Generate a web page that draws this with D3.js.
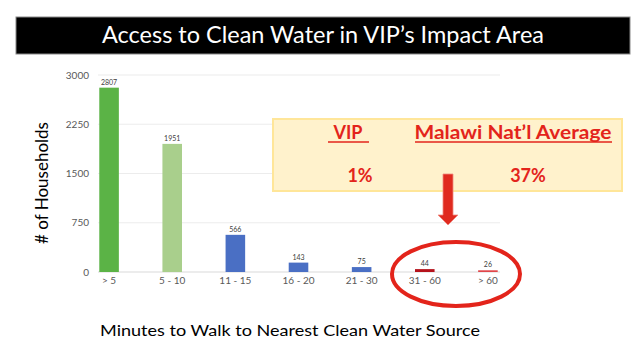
<!DOCTYPE html>
<html>
<head>
<meta charset="utf-8">
<script src="https://cdn.jsdelivr.net/npm/d3@7"></script>
<style>
html,body{margin:0;padding:0;background:#fff;}
svg{display:block;}
</style>
</head>
<body>
<svg id="chart" width="640" height="351"></svg>
<script>
const categories = ["> 5", "5 - 10", "11 - 15", "16 - 20", "21 - 30", "31 - 60", "> 60"];
const households = [2807, 1951, 566, 143, 75, 44, 26];
const barColors = ["#5bb346", "#a9cf8c", "#4a6fc4", "#4a6fc4", "#4a6fc4", "#b5121b", "#e0464a"];
const yTicks = [0, 750, 1500, 2250, 3000];
const title = "Access to Clean Water in VIP\u2019s Impact Area";
const yTitle = "# of Households";
const xTitle = "Minutes to Walk to Nearest Clean Water Source";
const calloutHeads = ["VIP", "Malawi Nat\u2019l Average"];
const calloutValues = ["1%", "37%"];

const svg = d3.select("#chart");
const font = "Lato, 'Open Sans', sans-serif";

// title bar
svg.append("rect").attr("x", 16).attr("y", 17).attr("width", 614).attr("height", 37)
  .attr("fill", "#000").attr("stroke", "#888").attr("stroke-width", 1);
svg.append("text").attr("x", 323).attr("y", 43).attr("text-anchor", "middle")
  .attr("fill", "#fff").attr("font-family", font).attr("font-size", 23)
  .attr("textLength", 442).attr("lengthAdjust", "spacingAndGlyphs").text(title);

const x = d3.scaleBand().domain(categories).range([77.5, 519.5]).paddingInner(0.69).paddingOuter(0.345);
const y = d3.scaleLinear().domain([0, 3000]).range([272, 75]);

// gridlines
svg.append("g").selectAll("line").data(yTicks).join("line")
  .attr("x1", 98).attr("x2", 500)
  .attr("y1", d => y(d)).attr("y2", d => y(d))
  .attr("stroke", d => d === 0 ? "#d9d9d9" : "#ececec").attr("stroke-width", 1.2);

// y axis labels
const yAxis = d3.axisLeft(y).tickValues(yTicks).tickFormat(d3.format("d")).tickSize(0).tickPadding(0);
const gy = svg.append("g").attr("transform", "translate(89,0)").call(yAxis);
gy.select(".domain").remove();
gy.selectAll("text").attr("font-family", font).attr("font-size", 10).attr("fill", "#595959");

// x axis labels
const xAxis = d3.axisBottom(x).tickSize(0).tickPadding(0);
const gx = svg.append("g").attr("transform", "translate(0,277)").call(xAxis);
gx.select(".domain").remove();
gx.selectAll("text").attr("font-family", font).attr("font-size", 10).attr("fill", "#595959");

// bars
svg.append("g").selectAll("rect").data(households).join("rect")
  .attr("x", (d, i) => x(categories[i]))
  .attr("width", x.bandwidth())
  .attr("y", d => y(d))
  .attr("height", d => y(0) - y(d))
  .attr("fill", (d, i) => barColors[i]);

// value labels
svg.append("g").selectAll("text").data(households).join("text")
  .attr("x", (d, i) => x(categories[i]) + x.bandwidth() / 2)
  .attr("y", d => y(d) - 3)
  .attr("text-anchor", "middle")
  .attr("font-family", font).attr("font-size", 7).attr("fill", "#404040")
  .text(d => d);

// axis titles
svg.append("text").attr("transform", "translate(48,183) rotate(-90)")
  .attr("text-anchor", "middle").attr("font-family", font).attr("font-size", 17)
  .attr("fill", "#000").text(yTitle);
svg.append("text").attr("x", 290).attr("y", 336).attr("text-anchor", "middle")
  .attr("font-family", font).attr("font-size", 16).attr("fill", "#000")
  .attr("textLength", 380).attr("lengthAdjust", "spacingAndGlyphs").text(xTitle);

// callout box
svg.append("rect").attr("x", 273).attr("y", 119).attr("width", 349).attr("height", 72)
  .attr("fill", "#fff2cc").attr("stroke", "#ffe699").attr("stroke-width", 2);
const red = "#e3241b";
const headX = [348, 513];
const headW = [null, 197];
calloutHeads.forEach((t, i) => {
  const tx = svg.append("text").attr("x", headX[i]).attr("y", 139).attr("text-anchor", "middle")
    .attr("font-family", font).attr("font-size", 18).attr("font-weight", "bold")
    .attr("fill", red).text(t);
  if (headW[i]) tx.attr("textLength", headW[i]).attr("lengthAdjust", "spacingAndGlyphs");
});
svg.append("line").attr("x1", 328).attr("x2", 369).attr("y1", 142).attr("y2", 142)
  .attr("stroke", red).attr("stroke-width", 1.6);
svg.append("line").attr("x1", 415).attr("x2", 612).attr("y1", 142).attr("y2", 142)
  .attr("stroke", red).attr("stroke-width", 1.6);
const valX = [360, 528];
calloutValues.forEach((t, i) => {
  svg.append("text").attr("x", valX[i]).attr("y", 182).attr("text-anchor", "middle")
    .attr("font-family", font).attr("font-size", 18).attr("font-weight", "bold")
    .attr("fill", red).text(t);
});

// arrow
svg.append("path")
  .attr("d", "M443,174 L453,174 L453,215 L458,215 L448,225 L438,215 L443,215 Z")
  .attr("fill", "#e02a1f").attr("stroke", "#f08a80").attr("stroke-width", 0.8);

// ellipse
svg.append("ellipse").attr("cx", 456).attr("cy", 274).attr("rx", 64).attr("ry", 32)
  .attr("fill", "none").attr("stroke", "#e3241b").attr("stroke-width", 4);
</script>
</body>
</html>
